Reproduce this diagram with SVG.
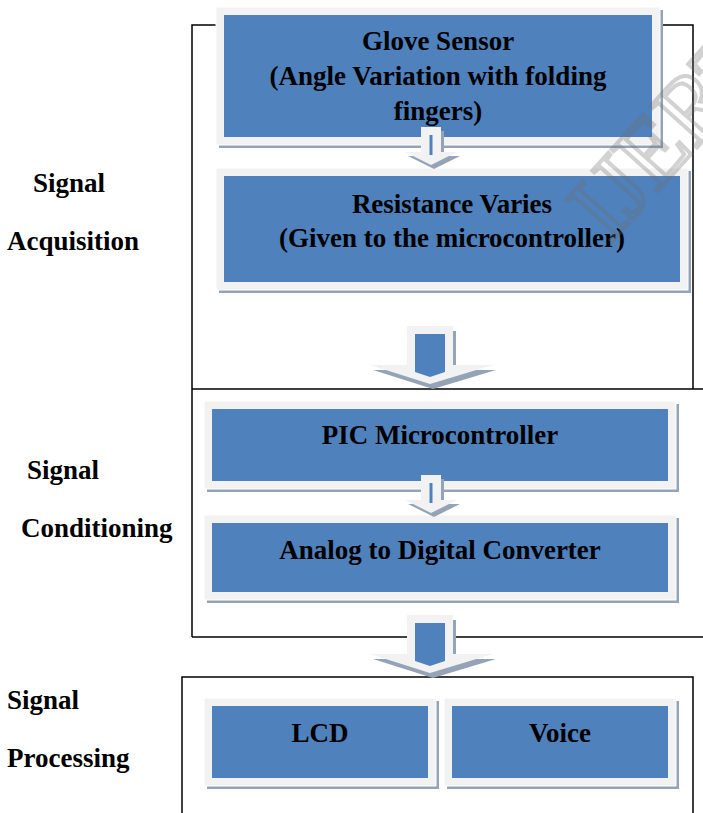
<svg xmlns="http://www.w3.org/2000/svg" width="703" height="813" viewBox="0 0 703 813">
<style>
.shadow{fill:#95a3b7}
.frame{fill:#f2f2f2;stroke:#ffffff;stroke-width:1}
.blue{fill:#4f81bd}
.t{font-family:'Liberation Serif',serif;font-weight:700;font-size:27px;fill:#000}
.c{text-anchor:middle}
.box{fill:none;stroke:#000;stroke-width:1.5}
.aout{fill:#f2f2f2}
.ash{fill:#95a3b7}
</style>
<defs>
<g id="bigArrow">
<polygon class="ash" points="3,5 49,5 49,44 89,44 26,63 -34,44 3,44"/>
<polygon class="aout" points="0,0 46,0 46,39 86,39 23,58 -37,39 0,39"/>
<polygon class="blue" points="8,8 38,8 38,46 23,51 8,46"/>
</g>
<g id="smallArrow">
<polygon class="ash" points="3,4 23,4 23,29 39,29 13,42 -13,29 3,29"/>
<polygon class="aout" points="0,0 20,0 20,25 36,25 10,38 -16,25 0,25"/>
<rect class="blue" x="8.5" y="8" width="3" height="20"/>
</g>
</defs>
<rect width="703" height="813" fill="#ffffff"/>
<g id="containers">
<polyline class="box" points="192,637 192,25 693,25 693,389"/>
<line class="box" x1="192" y1="389" x2="703" y2="389"/>
<line class="box" x1="192" y1="637" x2="703" y2="637"/>
<polyline class="box" points="182,813 182,677 693,677 693,813"/>
</g>
<g id="labels">
<text class="t" x="33" y="192">Signal</text>
<text class="t" x="7" y="250">Acquisition</text>
<text class="t" x="27" y="479">Signal</text>
<text class="t" x="21" y="537">Conditioning</text>
<text class="t" x="7" y="709">Signal</text>
<text class="t" x="7" y="767">Processing</text>
</g>
<g id="node-glove">
<rect class="shadow" x="219" y="10" width="444" height="138"/>
<rect class="frame" x="216" y="7" width="444" height="138"/>
<rect class="blue" x="224" y="15" width="428" height="122"/>
<text class="t c" x="438" y="50">Glove Sensor</text>
<text class="t c" x="438" y="85">(Angle Variation with folding</text>
<text class="t c" x="438" y="120">fingers)</text>
</g>
<g id="node-resistance">
<rect class="shadow" x="219" y="171" width="472" height="122"/>
<rect class="frame" x="216" y="168" width="472" height="122"/>
<rect class="blue" x="224" y="176" width="456" height="106"/>
<text class="t c" x="452" y="213">Resistance Varies</text>
<text class="t c" x="452" y="247">(Given to the microcontroller)</text>
</g>
<g id="node-pic">
<rect class="shadow" x="207" y="404" width="472" height="88"/>
<rect class="frame" x="204" y="401" width="472" height="88"/>
<rect class="blue" x="212" y="409" width="456" height="72"/>
<text class="t c" x="440" y="444">PIC Microcontroller</text>
</g>
<g id="node-adc">
<rect class="shadow" x="207" y="518" width="472" height="85"/>
<rect class="frame" x="204" y="515" width="472" height="85"/>
<rect class="blue" x="212" y="523" width="456" height="69"/>
<text class="t c" x="440" y="559">Analog to Digital Converter</text>
</g>
<g id="node-lcd">
<rect class="shadow" x="207" y="701" width="232" height="88"/>
<rect class="frame" x="204" y="698" width="232" height="88"/>
<rect class="blue" x="212" y="706" width="216" height="72"/>
<text class="t c" x="320" y="742">LCD</text>
</g>
<g id="node-voice">
<rect class="shadow" x="447" y="701" width="232" height="88"/>
<rect class="frame" x="444" y="698" width="232" height="88"/>
<rect class="blue" x="452" y="706" width="216" height="72"/>
<text class="t c" x="560" y="742">Voice</text>
</g>
<g id="connectors">
<use href="#smallArrow" x="421" y="127"/>
<use href="#bigArrow" x="407" y="326"/>
<use href="#smallArrow" x="421" y="475"/>
<use href="#bigArrow" x="407" y="615"/>
</g>
<g id="watermark" opacity="0.3">
<text x="610" y="244" transform="rotate(-48 610 244)" font-family="'Liberation Serif', serif" font-size="95" fill="none" stroke="#6e6e6e" stroke-width="4">IJERT</text>
</g>
</svg>
